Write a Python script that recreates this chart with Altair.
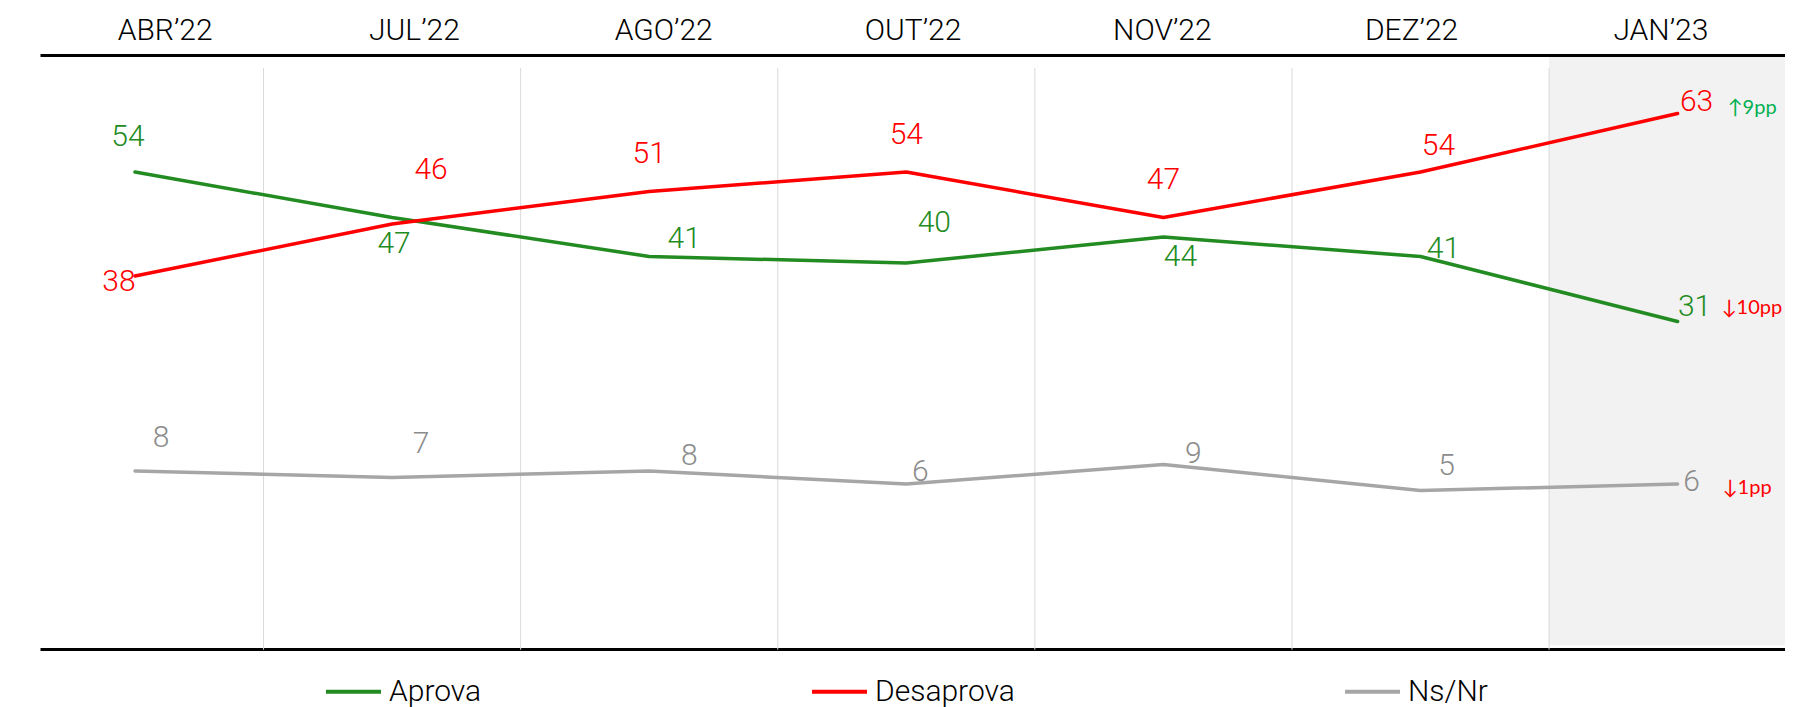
import altair as alt
import pandas as pd

# ---------------- data ----------------
MONTHS = ["ABR’22", "JUL’22", "AGO’22", "OUT’22", "NOV’22", "DEZ’22", "JAN’23"]
SERIES = ["Aprova", "Desaprova", "Ns/Nr"]
APROVA = [54, 47, 41, 40, 44, 41, 31]
DESAPROVA = [38, 46, 51, 54, 47, 54, 63]
NSNR = [8, 7, 8, 6, 9, 5, 6]
CHANGES = ["↓10pp", "↑9pp", "↓1pp"]

# ---------------- styles ----------------
LINE_COLORS = ["#228B22", "#FF0000", "#A6A6A6"]
LABEL_COLORS = ["#228B22", "#FF0000", "#8C8C8C"]
CHANGE_COLORS = ["#FF0000", "#00B050", "#FF0000"]
FONT = "Roboto"
FONT2 = "Lato"

# label offsets (px) from each point, per series
APROVA_OFF = [(-7, -35), (2, 27), (35, -17), (28, -40), (17, 20), (23, -7), (17, -14)]
DESAPROVA_OFF = [(-16, 6), (39, -54), (0, -37), (0, -37), (0, -37), (18, -26), (19, -11)]
NSNR_OFF = [(26, -33), (29, -33), (40, -15), (14, -12), (30, -10), (26, -24), (14, -2)]
CHANGE_OFF = [(44, -13), (50, -5), (45, 4)]

# layout
W, H = 1745, 594
X_DOMAIN = [-0.3695, 6.4177]
Y_DOMAIN = [-19.385, 72.0]
PX_X = W / (X_DOMAIN[1] - X_DOMAIN[0])
PX_Y = H / (Y_DOMAIN[1] - Y_DOMAIN[0])

# ---------------- tables ----------------
rows, labels, changes = [], [], []
for s, vals, offs, lc in zip(SERIES, [APROVA, DESAPROVA, NSNR],
                             [APROVA_OFF, DESAPROVA_OFF, NSNR_OFF], LABEL_COLORS):
    for i, (m, v, (dx, dy)) in enumerate(zip(MONTHS, vals, offs)):
        rows.append({"i": i, "month": m, "series": s, "value": v})
        labels.append({"lx": i + dx / PX_X, "ly": v - dy / PX_Y,
                       "text": str(v), "color": lc})
for s, vals, ch, cc, (dx, dy) in zip(SERIES, [APROVA, DESAPROVA, NSNR], CHANGES,
                                     CHANGE_COLORS, CHANGE_OFF):
    changes.append({"lx": len(MONTHS) - 1 + dx / PX_X, "ly": vals[-1] - dy / PX_Y,
                    "text": ch, "color": cc})

df = pd.DataFrame(rows)
df_lab = pd.DataFrame(labels)
df_chg = pd.DataFrame(changes)
df_grid = pd.DataFrame({"b": [i - 0.5 for i in range(len(MONTHS))]})
df_shade = pd.DataFrame({"x0": [len(MONTHS) - 1.5], "x1": [len(MONTHS) - 0.5 + 0.2]})
df_head = pd.DataFrame({"month": MONTHS})

xs = alt.Scale(domain=X_DOMAIN, nice=False, zero=False)
ys = alt.Scale(domain=Y_DOMAIN, nice=False, zero=False)
bottom_axis = alt.Axis(orient="bottom", labels=False, ticks=False, grid=False,
                       title=None, domainColor="black", domainWidth=3)

shade = alt.Chart(df_shade).mark_rect(color="#F2F2F2").encode(
    x=alt.X("x0:Q", scale=xs, axis=bottom_axis),
    x2="x1:Q",
    y=alt.Y("y0:Q", scale=ys, axis=None),
    y2="y1:Q",
).transform_calculate(y0="71.7", y1="-18.8")

grid = alt.Chart(df_grid).mark_rule(color="#D9D9D9", strokeWidth=1).encode(
    x=alt.X("b:Q", scale=xs, axis=bottom_axis),
    y=alt.Y("y0:Q", scale=ys, axis=None),
    y2="y1:Q",
).transform_calculate(y0="70", y1="-19.5")

lines = alt.Chart(df).mark_line(strokeWidth=3.5, strokeCap="round", strokeJoin="round").encode(
    x=alt.X("i:Q", scale=xs, axis=bottom_axis),
    y=alt.Y("value:Q", scale=ys, axis=None),
    color=alt.Color("series:N", sort=SERIES,
                    scale=alt.Scale(domain=SERIES, range=LINE_COLORS),
                    legend=alt.Legend(title=None, orient="none", direction="horizontal",
                                      legendX=284, legendY=607,
                                      symbolType="stroke", symbolSize=3025,
                                      symbolStrokeWidth=4, labelFontSize=30,
                                      labelFont=FONT, labelFontWeight=300,
                                      labelColor="black",
                                      labelOffset=6, columnPadding=322,
                                      padding=0)),
    detail="series:N",
)

lab = alt.Chart(df_lab).mark_text(font=FONT, fontSize=30, baseline="middle",
                                  align="center", fontWeight=300).encode(
    x=alt.X("lx:Q", scale=xs, axis=bottom_axis),
    y=alt.Y("ly:Q", scale=ys, axis=None),
    text="text:N",
    color=alt.Color("color:N", scale=None),
)

chg = alt.Chart(df_chg).mark_text(font=FONT2, fontSize=20, baseline="middle",
                                  align="left").encode(
    x=alt.X("lx:Q", scale=xs, axis=bottom_axis),
    y=alt.Y("ly:Q", scale=ys, axis=None),
    text="text:N",
    color=alt.Color("color:N", scale=None),
)

data_layer = alt.layer(shade, grid, lines, lab, chg)

head = alt.Chart(df_head).mark_point(opacity=0).encode(
    x=alt.X("month:N", sort=MONTHS,
            axis=alt.Axis(orient="top", title=None, labelFontSize=30, labelFont=FONT,
                          labelFontWeight=300,
                          labelColor="black", labelAngle=0, ticks=False, grid=False,
                          domainColor="black", domainWidth=3, labelPadding=10)),
)

chart = alt.layer(data_layer, head).resolve_scale(x="independent").resolve_axis(
    x="independent"
).properties(
    width=W, height=H,
    autosize=alt.AutoSizeParams(type="none"),
    padding={"left": 32, "top": 47, "right": 0, "bottom": 58},
).configure_view(stroke=None)

chart.save("out.html", embed_options={"renderer": "svg", "actions": False})
